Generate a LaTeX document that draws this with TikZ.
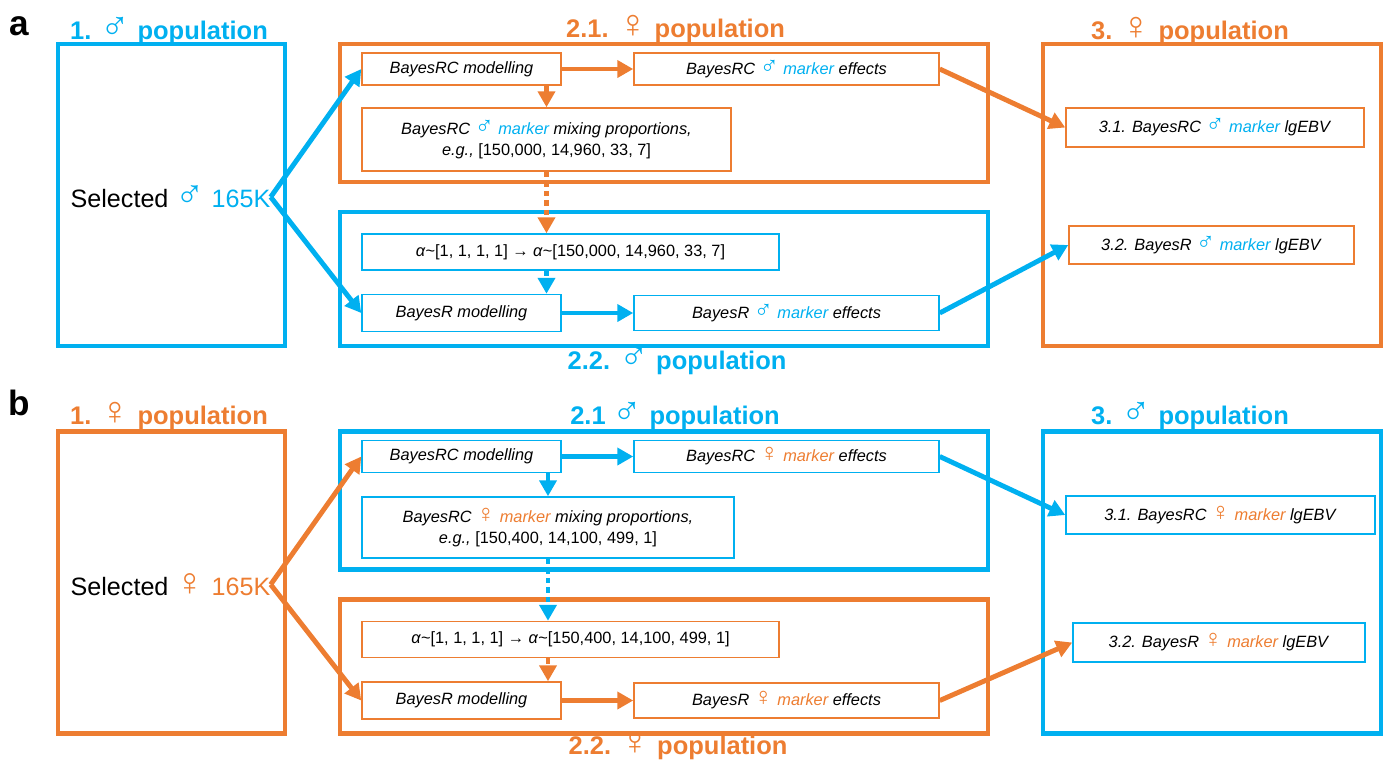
\documentclass[tikz,border=0pt]{standalone}
\usepackage{fontspec}
\setmainfont{Liberation Sans}
\newfontfamily\gsymfont{Liberation Sans}[Scale=1.55]
\usepackage{xcolor}
\usepackage{tikz}
\usetikzlibrary{positioning,arrows.meta}
\definecolor{mblue}{RGB}{0,176,240}
\definecolor{morange}{RGB}{237,125,49}
\newcommand{\malesym}{{\gsymfont\upshape\mdseries ♂}}
\newcommand{\femsym}{{\gsymfont\upshape\mdseries ♀}}

\begin{document}
\begin{tikzpicture}[
  pop/.style={draw=#1, line width=2.3pt, inner sep=0pt},
  ibox/.style={draw=#1, line width=0.85pt, align=center, inner sep=1pt, font=\fontsize{9.3}{12}\selectfont},
  ttl/.style={text=#1, anchor=base, inner sep=0pt, font=\bfseries\fontsize{14.5}{16}\selectfont},
  panel/.style={anchor=base, inner sep=0pt, font=\bfseries\fontsize{20}{22}\selectfont},
  seltext/.style={inner sep=0pt, font=\fontsize{14.3}{16}\selectfont},
  arr/.style={draw=#1, line width=2.8pt, -{Triangle[length=3.2mm,width=3.4mm]}},
  darr/.style={arr=#1, dash pattern=on 1.1mm off 0.8mm}
]
\useasboundingbox (0,0) rectangle (27.74,-15.2);

% panel a: male reference, female validation
\node[panel] (lblA) at (0.39,-0.70) {a};
\node[pop=mblue, minimum width=4.54cm, minimum height=6.04cm] (popA1) at (3.43,-3.90) {};
\node[pop=morange, minimum width=12.96cm, minimum height=2.76cm] (popA21) at (13.28,-2.26) {};
\node[pop=mblue, minimum width=12.96cm, minimum height=2.68cm] (popA22) at (13.28,-5.58) {};
\node[pop=morange, minimum width=6.76cm, minimum height=6.04cm] (popA3) at (24.24,-3.90) {};

\node[ttl=mblue] (ttlA1) at (3.38,-0.78) {1. \malesym\ population};
\node[ttl=morange] (ttlA21) at (13.51,-0.74) {2.1. \femsym\ population};
\node[ttl=mblue] (ttlA22) at (13.54,-7.38) {2.2. \malesym\ population};
\node[ttl=morange] (ttlA3) at (23.80,-0.78) {3. \femsym\ population};

\node[seltext] (selA) at (3.41,-3.94) {Selected {\color{mblue}\malesym{} 165K}};

\node[ibox=morange, minimum width=3.98cm, minimum height=0.64cm] (modA) at (9.23,-1.38) {\textit{BayesRC modelling}};
\node[ibox=morange, minimum width=6.10cm, minimum height=0.64cm] (effA) at (15.73,-1.38)
  {\textit{BayesRC {\color{mblue}\malesym{} marker} effects}};
\node[ibox=morange, minimum width=7.38cm, minimum height=1.26cm] (mixA) at (10.93,-2.79)
  {\textit{BayesRC {\color{mblue}\malesym{} marker} mixing proportions,}\\
   \textit{e.g.,} [150,000, 14,960, 33, 7]};
\node[ibox=mblue, minimum width=8.34cm, minimum height=0.72cm] (alphaA) at (11.41,-5.04)
  {\textit{α}\textasciitilde[1, 1, 1, 1] → \textit{α}\textasciitilde[150,000, 14,960, 33, 7]};
\node[ibox=mblue, minimum width=3.98cm, minimum height=0.74cm] (rmodA) at (9.23,-6.26) {\textit{BayesR modelling}};
\node[ibox=mblue, minimum width=6.10cm, minimum height=0.70cm] (reffA) at (15.73,-6.26)
  {\textit{BayesR {\color{mblue}\malesym{} marker} effects}};
\node[ibox=morange, minimum width=5.96cm, minimum height=0.78cm] (ebvA1) at (24.30,-2.55)
  {\textit{3.1. BayesRC {\color{mblue}\malesym{} marker} lgEBV}};
\node[ibox=morange, minimum width=5.70cm, minimum height=0.76cm] (ebvA2) at (24.23,-4.90)
  {\textit{3.2. BayesR {\color{mblue}\malesym{} marker} lgEBV}};

\draw[arr=mblue] (selA.east) -- (modA.west);
\draw[arr=mblue] (selA.east) -- (rmodA.west);
\draw[arr=morange] (modA.east) -- (effA.west);
\draw[arr=morange] (modA.south -| mixA.north) -- (mixA.north);
\draw[darr=morange] (mixA.south) -- (alphaA.north -| mixA.south);
\draw[darr=mblue] (alphaA.south -| mixA.south) -- (rmodA.north -| mixA.south);
\draw[arr=mblue] (rmodA.east) -- (reffA.west);
\draw[arr=morange] (effA.east) -- (ebvA1.west);
\draw[arr=mblue] (reffA.east) -- (ebvA2.west);

% panel b: female reference, male validation
\begin{scope}[yshift=-7.75cm]
\node[panel] (lblB) at (0.39,-0.55) {b};
\node[pop=morange, minimum width=4.54cm, minimum height=6.04cm] (popB1) at (3.43,-3.90) {};
\node[pop=mblue, minimum width=12.96cm, minimum height=2.76cm] (popB21) at (13.28,-2.26) {};
\node[pop=morange, minimum width=12.96cm, minimum height=2.68cm] (popB22) at (13.28,-5.58) {};
\node[pop=mblue, minimum width=6.76cm, minimum height=6.04cm] (popB3) at (24.24,-3.90) {};

\node[ttl=morange] (ttlB1) at (3.38,-0.73) {1. \femsym\ population};
\node[ttl=mblue] (ttlB21) at (13.50,-0.73) {2.1 \malesym\ population};
\node[ttl=morange] (ttlB22) at (13.56,-7.34) {2.2. \femsym\ population};
\node[ttl=mblue] (ttlB3) at (23.80,-0.73) {3. \malesym\ population};

\node[seltext] (selB) at (3.41,-3.94) {Selected {\color{morange}\femsym{} 165K}};

\node[ibox=mblue, minimum width=3.98cm, minimum height=0.64cm] (modB) at (9.23,-1.38) {\textit{BayesRC modelling}};
\node[ibox=mblue, minimum width=6.10cm, minimum height=0.64cm] (effB) at (15.73,-1.38)
  {\textit{BayesRC {\color{morange}\femsym{} marker} effects}};
\node[ibox=mblue, minimum width=7.44cm, minimum height=1.22cm] (mixB) at (10.96,-2.80)
  {\textit{BayesRC {\color{morange}\femsym{} marker} mixing proportions,}\\
   \textit{e.g.,} [150,400, 14,100, 499, 1]};
\node[ibox=morange, minimum width=8.34cm, minimum height=0.72cm] (alphaB) at (11.41,-5.04)
  {\textit{α}\textasciitilde[1, 1, 1, 1] → \textit{α}\textasciitilde[150,400, 14,100, 499, 1]};
\node[ibox=morange, minimum width=3.98cm, minimum height=0.74cm] (rmodB) at (9.23,-6.26) {\textit{BayesR modelling}};
\node[ibox=morange, minimum width=6.10cm, minimum height=0.70cm] (reffB) at (15.73,-6.26)
  {\textit{BayesR {\color{morange}\femsym{} marker} effects}};
\node[ibox=mblue, minimum width=6.18cm, minimum height=0.76cm] (ebvB1) at (24.41,-2.55)
  {\textit{3.1. BayesRC {\color{morange}\femsym{} marker} lgEBV}};
\node[ibox=mblue, minimum width=5.84cm, minimum height=0.78cm] (ebvB2) at (24.38,-5.10)
  {\textit{3.2. BayesR {\color{morange}\femsym{} marker} lgEBV}};

\draw[arr=morange] (selB.east) -- (modB.west);
\draw[arr=morange] (selB.east) -- (rmodB.west);
\draw[arr=mblue] (modB.east) -- (effB.west);
\draw[arr=mblue] (modB.south -| mixB.north) -- (mixB.north);
\draw[darr=mblue] (mixB.south) -- (alphaB.north -| mixB.south);
\draw[darr=morange] (alphaB.south -| mixB.south) -- (rmodB.north -| mixB.south);
\draw[arr=morange] (rmodB.east) -- (reffB.west);
\draw[arr=mblue] (effB.east) -- (ebvB1.west);
\draw[arr=morange] (reffB.east) -- (ebvB2.west);
\end{scope}
\end{tikzpicture}
\end{document}
